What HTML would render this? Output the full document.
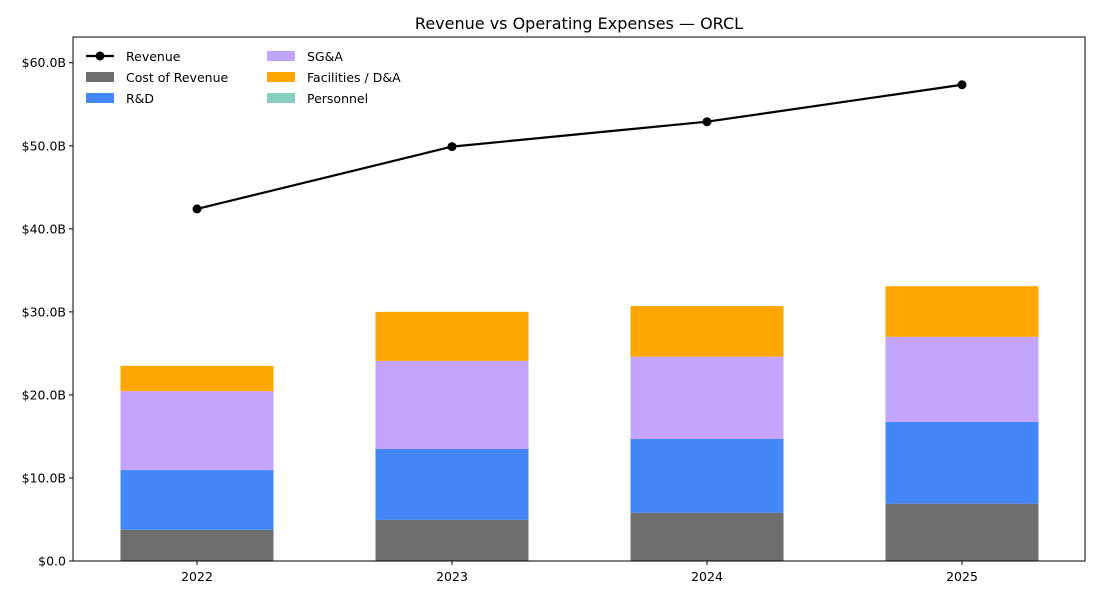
<!DOCTYPE html>
<html><head><meta charset="utf-8"><style>
body{margin:0;background:#fff;font-family:"Liberation Sans","DejaVu Sans",sans-serif}
svg text{font-family:"DejaVu Sans","Liberation Sans",sans-serif}
</style></head><body>
<svg id="chart" width="1100" height="600" xmlns="http://www.w3.org/2000/svg"></svg>
<script>
const categories=["2022","2023","2024","2025"];
const costOfRevenue=[3.75,4.95,5.8,6.9];
const rnd=[7.2,8.55,8.9,9.85];
const sga=[9.5,10.6,9.9,10.25];
const facilities=[3.05,5.9,6.1,6.1];
const personnel=[0,0,0,0];
const revenue=[42.4,49.9,52.9,57.35];
const yTicks=[0,10,20,30,40,50,60];
const yTickLabels=["$0.0","$10.0B","$20.0B","$30.0B","$40.0B","$50.0B","$60.0B"];

const NS="http://www.w3.org/2000/svg";
const svg=document.getElementById('chart');
const L=73,R=1085,T=37,B=561,yMax=63.1;
const y=v=>B-(v/yMax)*(B-T);
const x=i=>197+255*i;
const bw=153;
function el(t,a,p){const e=document.createElementNS(NS,t);for(const k in a)e.setAttribute(k,a[k]);(p||svg).appendChild(e);return e;}

const title=el('text',{x:579,y:29,'text-anchor':'middle','font-size':16,fill:'#000'});
title.textContent="Revenue vs Operating Expenses — ORCL";



const series=[[costOfRevenue,'#6e6e6e','cost-of-revenue'],[rnd,'#4287f5','rnd'],[sga,'#c4a5fe','sga'],[facilities,'#ffa600','facilities'],[personnel,'#88d1c0','personnel']];
categories.forEach((c,i)=>{
  let base=0;
  const cx=x(i);
  series.forEach(s=>{
    const v=s[0][i];
    const r=el('rect',{x:cx-bw/2,y:y(base+v),width:bw,height:y(base)-y(base+v),fill:s[1]});
    
    
    base+=v;
  });
});
const frame=el('rect',{x:L,y:T,width:R-L,height:B-T,fill:'none',stroke:'#000','stroke-width':1});


yTicks.forEach((t,i)=>{
  el('line',{x1:L-4,x2:L,y1:y(t),y2:y(t),stroke:'#000'});
  const tx=el('text',{x:L-7,y:y(t)+4.5,'text-anchor':'end','font-size':12.5});
  tx.textContent=yTickLabels[i];
  
  
});
categories.forEach((c,i)=>{
  el('line',{x1:x(i),x2:x(i),y1:B,y2:B+4,stroke:'#000'});
  const tx=el('text',{x:x(i),y:B+20,'text-anchor':'middle','font-size':12.5});
  tx.textContent=c;
  
  
});
const pts=revenue.map((v,i)=>x(i)+','+y(v)).join(' ');
const line=el('polyline',{points:pts,fill:'none',stroke:'#000','stroke-width':2.2});


revenue.forEach((v,i)=>{
  const c=el('circle',{cx:x(i),cy:y(v),r:4.5,fill:'#000'});
  
  
});
const leg=[['Revenue','line',86,56],['Cost of Revenue','#6e6e6e',86,77],['R&D','#4287f5',86,98],['SG&A','#c4a5fe',267,56],['Facilities / D&A','#ffa600',267,77],['Personnel','#88d1c0',267,98]];
leg.forEach(l=>{
  const g=el('g',{});
  
  
  if(l[1]==='line'){el('line',{x1:l[2],x2:l[2]+28,y1:l[3],y2:l[3],stroke:'#000','stroke-width':2.2},g);el('circle',{cx:l[2]+14,cy:l[3],r:4.5},g);}
  else el('rect',{x:l[2],y:l[3]-5,width:28,height:10,fill:l[1]},g);
  const t=el('text',{x:l[2]+40,y:l[3]+5,'font-size':12.5},g);t.textContent=l[0];
});
</script>
</body></html>
